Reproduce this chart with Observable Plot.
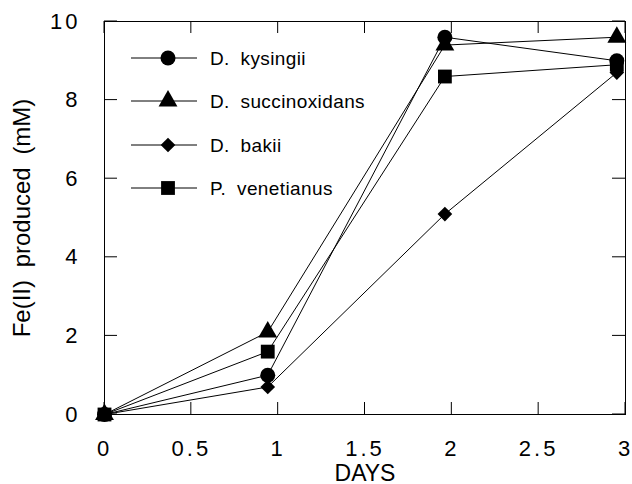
<!DOCTYPE html>
<html><head><meta charset="utf-8">
<script src="https://cdn.jsdelivr.net/npm/d3@7"></script>
<script src="https://cdn.jsdelivr.net/npm/@observablehq/plot@0.6"></script>
<style>
html,body{margin:0;padding:0;background:#fff;}
#chart{position:relative;width:632px;height:484px;}
</style></head><body><div id="chart"></div>
<script>
const days = [0, 0.94, 1.96, 2.95];
const seriesNames = ["D. kysingii", "D. succinoxidans", "D. bakii", "P. venetianus"];
const kysingii = [0, 1.0, 9.6, 9.0];
const succinoxidans = [0, 2.1, 9.4, 9.6];
const bakii = [0, 0.7, 5.1, 8.7];
const venetianus = [0, 1.6, 8.6, 8.9];
const xTicks = [0, 0.5, 1, 1.5, 2, 2.5, 3];
const xTickLabels = ["0", "0.5", "1", "1.5", "2", "2.5", "3"];
const yTicks = [0, 2, 4, 6, 8, 10];
const yTickLabels = ["0", "2", "4", "6", "8", "10"];

const symbolsBySeries = ["circle", "triangle", "diamond2", "square"];
const radiusBySeries = [7.5, 7.0, 6.6, 7.8];
const seriesValues = [kysingii, succinoxidans, bakii, venetianus];

const data = [];
seriesNames.forEach((name, si) => {
  days.forEach((d, i) => data.push({series: name, day: d, value: seriesValues[si][i], r: radiusBySeries[si]}));
});

const font = "'Liberation Sans', Arial, Helvetica, sans-serif";

const plot = Plot.plot({
  width: 632, height: 484,
  marginLeft: 104, marginRight: 7, marginTop: 21, marginBottom: 70,
  style: {fontFamily: font, fontSize: "22px", color: "#000", background: "#fff"},
  x: {domain: [0, 3]},
  y: {domain: [0, 10]},
  r: {type: "identity"},
  symbol: {domain: seriesNames, range: symbolsBySeries},
  marks: [
    Plot.frame({stroke: "#000", strokeWidth: 1}),
    Plot.axisX({anchor: "bottom", ticks: xTicks, tickSize: 0, tickPadding: 26,
      tickFormat: d => xTickLabels[xTicks.indexOf(d)],
      label: "DAYS", labelAnchor: "center", labelOffset: 66, labelArrow: "none"}),
    Plot.axisY({anchor: "left", ticks: yTicks, tickSize: 0, tickPadding: 24,
      tickFormat: d => yTickLabels[yTicks.indexOf(d)],
      label: "Fe(II) produced (mM)", labelAnchor: "center", labelOffset: 92, labelArrow: "none"}),
    Plot.line(data, {x: "day", y: "value", z: "series", stroke: "#000", strokeWidth: 1}),
    Plot.dot(data, {x: "day", y: "value", symbol: "series", r: "r", fill: "#000", stroke: "none"})
  ]
});

document.getElementById("chart").appendChild(plot);

const svg = d3.select(plot);
svg.selectAll('g[aria-label="x-axis tick label"] text, g[aria-label="y-axis tick label"] text')
  .style("letter-spacing", "3px");
svg.selectAll('g[aria-label="y-axis label"] text')
  .style("font-size", "24px").style("word-spacing", "6px");
svg.selectAll('g[aria-label="x-axis label"] text').style("font-size", "23px");

// Inward tick marks on all four sides, placed with the plot's own scales
const xs = plot.scale("x"), ys = plot.scale("y");
const x0 = xs.apply(xs.domain[0]), x1 = xs.apply(xs.domain[1]);
const yb = ys.apply(ys.domain[0]), yt = ys.apply(ys.domain[1]);
const tg = svg.append("g").attr("aria-label", "inward ticks").attr("stroke", "#000").attr("stroke-width", 1);
xTicks.forEach(t => {
  const px = xs.apply(t);
  tg.append("line").attr("x1", px).attr("x2", px).attr("y1", yb).attr("y2", yb - 12);
  tg.append("line").attr("x1", px).attr("x2", px).attr("y1", yt).attr("y2", yt + 12);
});
yTicks.forEach(t => {
  const py = ys.apply(t);
  tg.append("line").attr("x1", x0).attr("x2", x0 + 13).attr("y1", py).attr("y2", py);
  tg.append("line").attr("x1", x1).attr("x2", x1 - 13).attr("y1", py).attr("y2", py);
});
// keep data marks above ticks
svg.node().appendChild(svg.select('g[aria-label="line"]').node());
svg.node().appendChild(svg.select('g[aria-label="dot"]').node());

// Legend inside the frame
const d3Symbols = [d3.symbolCircle, d3.symbolTriangle, d3.symbolDiamond2, d3.symbolSquare];
const leg = svg.append("g").attr("aria-label", "legend");
const rowY = [58, 101, 145, 188];
seriesNames.forEach((name, i) => {
  const g = leg.append("g").attr("transform", `translate(0,${rowY[i]})`);
  g.append("line").attr("x1", 131).attr("x2", 197).attr("y1", 0).attr("y2", 0)
    .attr("stroke", "#000").attr("stroke-width", 1);
  g.append("path").attr("transform", "translate(168,0)")
    .attr("d", d3.symbol(d3Symbols[i], Math.PI * radiusBySeries[i] * radiusBySeries[i])())
    .attr("fill", "#000");
  g.append("text").attr("x", 210).attr("y", 0).attr("dy", "0.35em")
    .attr("text-anchor", "start")
    .attr("font-family", font).attr("font-size", 19).attr("fill", "#000")
    .style("word-spacing", "5px").style("letter-spacing", "0.4px")
    .text(name);
});
</script>
</body></html>
